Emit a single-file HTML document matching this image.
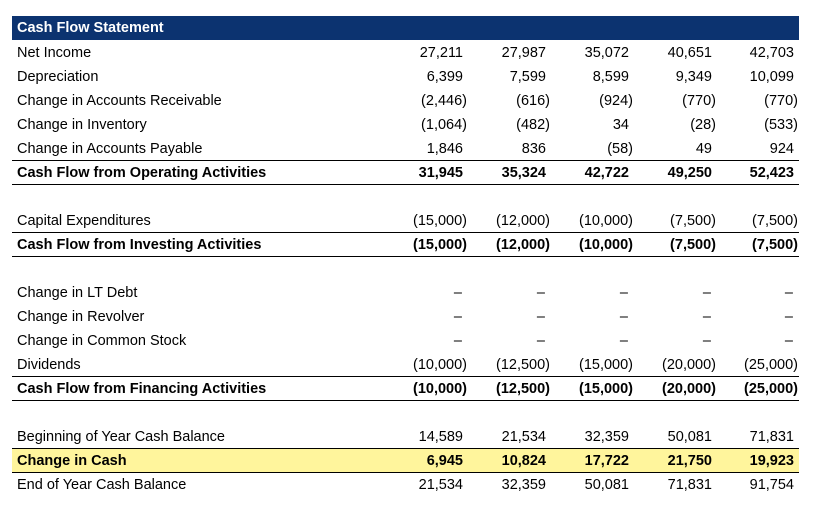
<!DOCTYPE html>
<html><head><meta charset="utf-8"><style>
body{margin:0;width:823px;height:507px;background:#fff;position:relative;overflow:hidden;font-family:"Liberation Sans",Arial,sans-serif;font-size:14.5px;color:#000}
.r{position:absolute;left:12px;width:787px;height:24px;box-sizing:border-box}
.l{position:absolute;left:5px;top:5px;white-space:nowrap}
.v{position:absolute;top:5px;white-space:nowrap;text-align:right;width:90px}
.tot .l,.tot .v{top:4px}
.hdr .l{top:4px}
.b{font-weight:bold}
.hdr{background:#0C3370;color:#fff;font-weight:bold}
.tot{border-top:1px solid #000;border-bottom:1px solid #000}
.hl{background:#FFF59C}
</style></head><body>
<div id="t"></div>
<script>
const colRight=[467,550,633,716,798];
const rows=[
["Cash Flow Statement",null,"hdr"],
["Net Income",["27,211","27,987","35,072","40,651","42,703"]],
["Depreciation",["6,399","7,599","8,599","9,349","10,099"]],
["Change in Accounts Receivable",["(2,446)","(616)","(924)","(770)","(770)"]],
["Change in Inventory",["(1,064)","(482)","34","(28)","(533)"]],
["Change in Accounts Payable",["1,846","836","(58)","49","924"]],
["Cash Flow from Operating Activities",["31,945","35,324","42,722","49,250","52,423"],"tot b"],
null,
["Capital Expenditures",["(15,000)","(12,000)","(10,000)","(7,500)","(7,500)"]],
["Cash Flow from Investing Activities",["(15,000)","(12,000)","(10,000)","(7,500)","(7,500)"],"tot b"],
null,
["Change in LT Debt",["–","–","–","–","–"]],
["Change in Revolver",["–","–","–","–","–"]],
["Change in Common Stock",["–","–","–","–","–"]],
["Dividends",["(10,000)","(12,500)","(15,000)","(20,000)","(25,000)"]],
["Cash Flow from Financing Activities",["(10,000)","(12,500)","(15,000)","(20,000)","(25,000)"],"tot b"],
null,
["Beginning of Year Cash Balance",["14,589","21,534","32,359","50,081","71,831"]],
["Change in Cash",["6,945","10,824","17,722","21,750","19,923"],"tot b hl"],
["End of Year Cash Balance",["21,534","32,359","50,081","71,831","91,754"]]
];
const t=document.getElementById('t');
rows.forEach((row,i)=>{
 if(!row)return;
 const d=document.createElement('div');
 
 
 d.className='r '+(row[2]||'');
 d.style.top=(16+24*i)+'px';
 const l=document.createElement('div');
 
 
 l.className='l';l.textContent=row[0];d.appendChild(l);
 if(row[1])row[1].forEach((v,j)=>{
  const c=document.createElement('div');
  
  
  c.className='v';c.textContent=v;
  let pad=v.endsWith(')')?0:(v==='–'?5:4);
  c.style.left=(colRight[j]-12-90-pad)+'px';
  d.appendChild(c);
 });
 if(row[2]&&row[2].includes('tot'))d.style.height='25px';
 t.appendChild(d);
});
</script>
</body></html>
